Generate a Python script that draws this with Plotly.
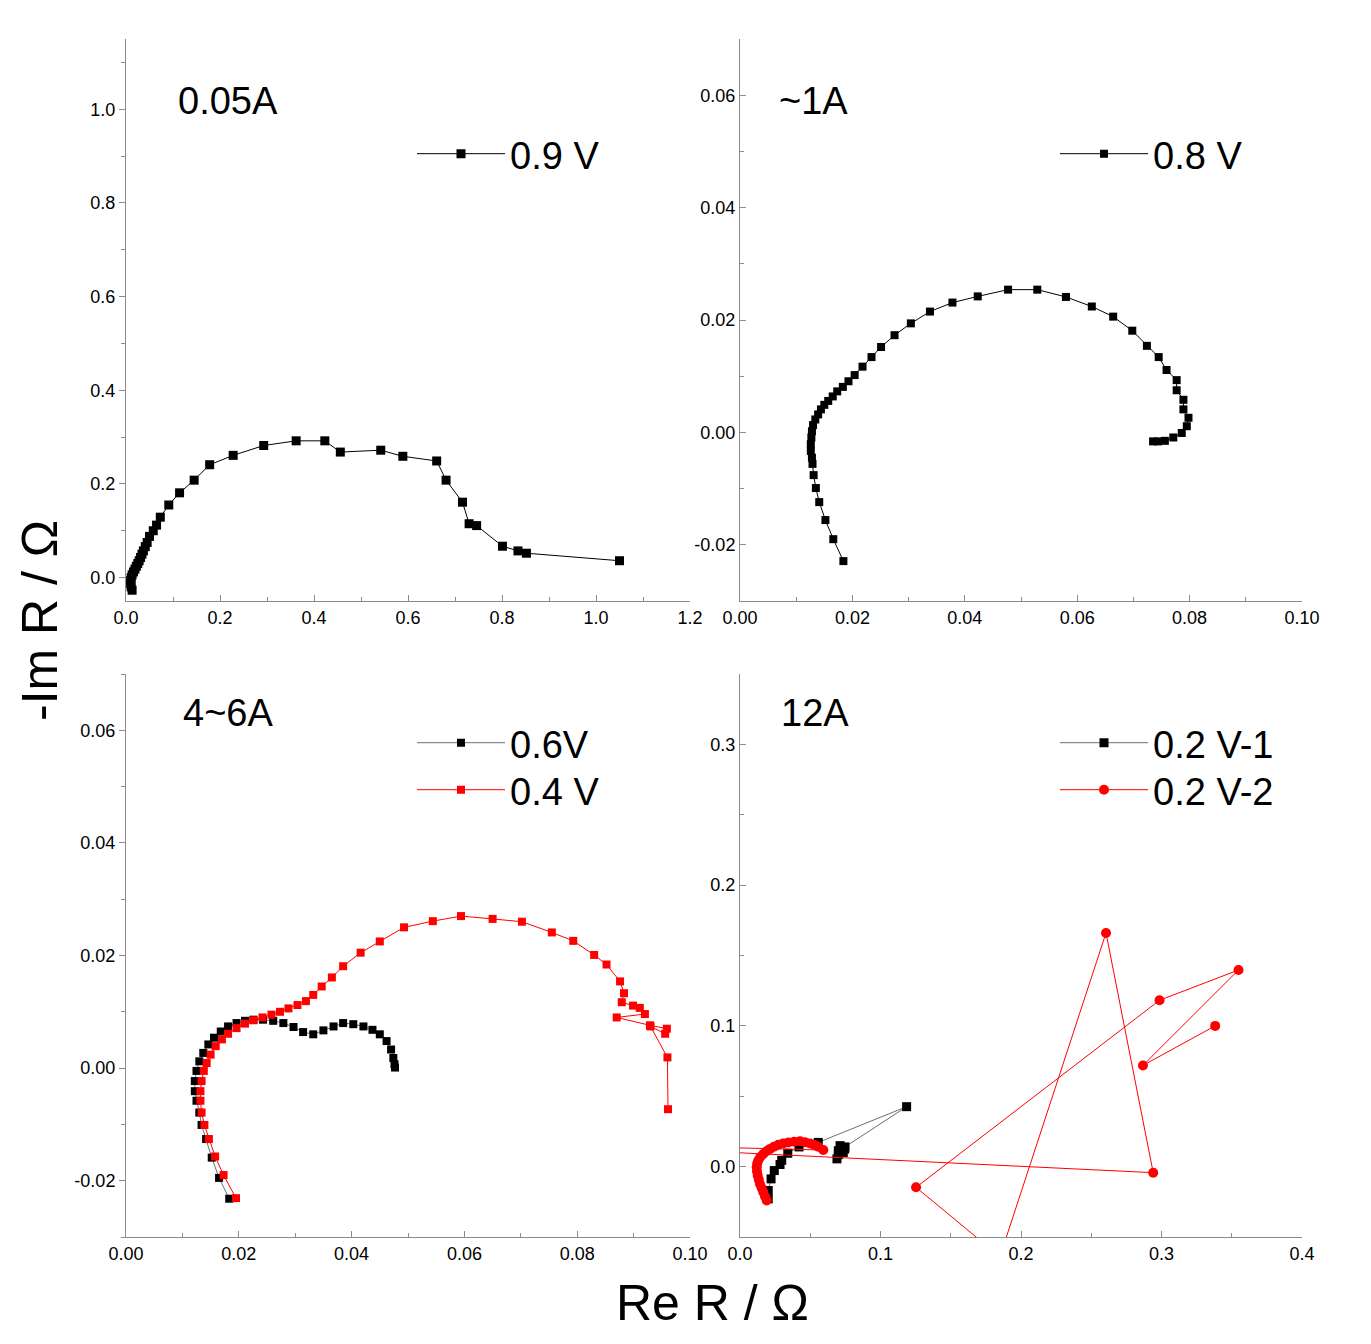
import plotly.graph_objects as go

# ---------------- data ----------------
# Panel 1: 0.05A, 0.9 V
p1_x = [0.013, 0.011, 0.010, 0.010, 0.011, 0.013, 0.016, 0.019, 0.022, 0.025, 0.028, 0.031, 0.034,
        0.037, 0.041, 0.045, 0.050, 0.058, 0.065, 0.073, 0.091, 0.114, 0.145, 0.178, 0.228, 0.293,
        0.362, 0.423, 0.456, 0.542, 0.589, 0.661, 0.681, 0.716, 0.730, 0.746, 0.801, 0.834, 0.852, 1.050]
p1_y = [-0.027, -0.020, -0.013, -0.006, 0.000, 0.006, 0.012, 0.018, 0.024, 0.030, 0.036, 0.043, 0.050,
        0.057, 0.066, 0.075, 0.088, 0.100, 0.112, 0.129, 0.155, 0.181, 0.208, 0.241, 0.261, 0.282,
        0.292, 0.292, 0.268, 0.272, 0.259, 0.249, 0.208, 0.161, 0.115, 0.111, 0.067, 0.057, 0.052, 0.036]

# Panel 2: ~1A, 0.8 V
p2_x = [0.0184, 0.0166, 0.0152, 0.0141, 0.0135, 0.0131, 0.0129, 0.0128, 0.0126, 0.0126, 0.0127,
        0.0128, 0.0130, 0.0134, 0.0139, 0.0144, 0.0150, 0.0157, 0.0165, 0.0173, 0.0183, 0.0193,
        0.0204, 0.0218, 0.0234, 0.0251, 0.0275, 0.0304, 0.0338, 0.0378, 0.0423, 0.0477, 0.0529,
        0.0580, 0.0626, 0.0664, 0.0698, 0.0724, 0.0745, 0.0759, 0.0777, 0.0777, 0.0789, 0.0789,
        0.0798, 0.0795, 0.0786, 0.0771, 0.0756, 0.0744, 0.0735]
p2_y = [-0.0229, -0.0190, -0.0156, -0.0124, -0.0099, -0.0076, -0.0056, -0.0045, -0.0033, -0.0021,
        -0.0009, 0.0002, 0.0013, 0.0023, 0.0032, 0.0041, 0.0049, 0.0056, 0.0064, 0.0073, 0.0081,
        0.0091, 0.0102, 0.0117, 0.0134, 0.0152, 0.0173, 0.0194, 0.0215, 0.0231, 0.0242, 0.0254,
        0.0254, 0.0241, 0.0224, 0.0206, 0.0181, 0.0154, 0.0134, 0.0111, 0.0093, 0.0075, 0.0058,
        0.0041, 0.0026, 0.0011, -0.0001, -0.0009, -0.0015, -0.0016, -0.0016]

# Panel 3: 4~6A, 0.6V (black) and 0.4 V (red)
p3a_x = [0.0183, 0.0165, 0.0152, 0.0142, 0.0134, 0.0130, 0.0125, 0.0122, 0.0122, 0.0125, 0.0130,
         0.0137, 0.0146, 0.0156, 0.0168, 0.0181, 0.0196, 0.0211, 0.0226, 0.0243, 0.0261, 0.0279,
         0.0297, 0.0314, 0.0332, 0.0350, 0.0368, 0.0385, 0.0403, 0.0421, 0.0437, 0.0450, 0.0462,
         0.0470, 0.0474, 0.0476, 0.0477]
p3a_y = [-0.0232, -0.0195, -0.0159, -0.0126, -0.0101, -0.0079, -0.0058, -0.0041, -0.0023, -0.0005,
         0.0012, 0.0027, 0.0042, 0.0054, 0.0065, 0.0074, 0.0080, 0.0084, 0.0086, 0.0086, 0.0084,
         0.0080, 0.0073, 0.0064, 0.0060, 0.0067, 0.0074, 0.0080, 0.0078, 0.0074, 0.0068, 0.0060,
         0.0048, 0.0033, 0.0018, 0.0007, 0.0001]
p3b_x = [0.0195, 0.0173, 0.0158, 0.0147, 0.0139, 0.0134, 0.0132, 0.0132, 0.0134, 0.0138, 0.0143,
         0.0150, 0.0159, 0.0170, 0.0181, 0.0196, 0.0211, 0.0226, 0.0242, 0.0258, 0.0273, 0.0288,
         0.0304, 0.0319, 0.0332, 0.0347, 0.0365, 0.0385, 0.0416, 0.0450, 0.0493, 0.0544, 0.0594,
         0.0650, 0.0702, 0.0755, 0.0793, 0.0830, 0.0852, 0.0876, 0.0883, 0.0879, 0.0899, 0.0911,
         0.0920, 0.0870, 0.0929, 0.0959, 0.0956, 0.0930, 0.0960, 0.0961]
p3b_y = [-0.0231, -0.0190, -0.0157, -0.0126, -0.0101, -0.0079, -0.0058, -0.0041, -0.0023, -0.0005,
         0.0009, 0.0024, 0.0039, 0.0051, 0.0061, 0.0071, 0.0079, 0.0085, 0.0090, 0.0095, 0.0100,
         0.0106, 0.0112, 0.0119, 0.0130, 0.0145, 0.0161, 0.0181, 0.0205, 0.0225, 0.0250, 0.0261,
         0.0270, 0.0265, 0.0260, 0.0241, 0.0226, 0.0201, 0.0184, 0.0154, 0.0133, 0.0117, 0.0111,
         0.0107, 0.0096, 0.0090, 0.0076, 0.0070, 0.0061, 0.0074, 0.0019, -0.0073]

# Panel 4: 12A, 0.2 V-1 (black) and 0.2 V-2 (red)
p4a_x = [0.0201, 0.0201, 0.0221, 0.0244, 0.0285, 0.0297, 0.0340, 0.0420, 0.0557, 0.1186, 0.0747,
         0.0712, 0.0700, 0.0735, 0.0745, 0.0700, 0.0690]
p4a_y = [-0.0229, -0.0170, -0.0087, -0.0028, 0.0015, 0.0045, 0.0095, 0.0140, 0.0172, 0.0426, 0.0140,
         0.0149, 0.0113, 0.0100, 0.0125, 0.0085, 0.0055]
p4b_x = [0.0190, 0.0178, 0.0166, 0.0154, 0.0142, 0.0134, 0.0126, 0.0121, 0.0119, 0.0122, 0.0130,
         0.0145, 0.0166, 0.0188, 0.0214, 0.0242, 0.0273, 0.0308, 0.0344, 0.0385, 0.0427, 0.0462,
         0.0498, 0.0530, 0.0557, 0.0593, -0.150, 0.2941, 0.2605, 0.185, 0.1253, 0.2986, 0.3548,
         0.2868, 0.3382]
p4b_y = [-0.0241, -0.0212, -0.0182, -0.0152, -0.0123, -0.0094, -0.0064, -0.0035, -0.0005, 0.0020,
         0.0043, 0.0068, 0.0090, 0.0109, 0.0126, 0.0142, 0.0156, 0.0165, 0.0172, 0.0177, 0.0180,
         0.0174, 0.0165, 0.0154, 0.0142, 0.0118, 0.017, -0.0043, 0.1660, -0.064, -0.0147, 0.1182,
         0.1397, 0.0719, 0.1000]

# tick labels
p1_xticks = [0.0, 0.2, 0.4, 0.6, 0.8, 1.0, 1.2]
p1_xlabels = ["0.0", "0.2", "0.4", "0.6", "0.8", "1.0", "1.2"]
p1_yticks = [0.0, 0.2, 0.4, 0.6, 0.8, 1.0]
p1_ylabels = ["0.0", "0.2", "0.4", "0.6", "0.8", "1.0"]
small_xticks = [0.0, 0.02, 0.04, 0.06, 0.08, 0.10]
small_xlabels = ["0.00", "0.02", "0.04", "0.06", "0.08", "0.10"]
small_yticks = [-0.02, 0.0, 0.02, 0.04, 0.06]
small_ylabels = ["-0.02", "0.00", "0.02", "0.04", "0.06"]
p4_xticks = [0.0, 0.1, 0.2, 0.3, 0.4]
p4_xlabels = ["0.0", "0.1", "0.2", "0.3", "0.4"]
p4_yticks = [0.0, 0.1, 0.2, 0.3]
p4_ylabels = ["0.0", "0.1", "0.2", "0.3"]

panel_titles = ["0.05A", "~1A", "4~6A", "12A"]

# ---------------- figure ----------------
W, H = 1371, 1344
OFF_X, OFF_Y = 8, 7          # page body margin compensation
FONT = "Arial, Liberation Sans, sans-serif"
AX = "#8a8a8a"
GRAYLINE = "#6e6e6e"


def px_x(p):
    return (p - OFF_X) / W


def px_y(p):
    return 1 - (p - OFF_Y) / H


fig = go.Figure()

fig.add_trace(go.Scatter(x=p1_x, y=p1_y, name="0.9 V", mode="lines+markers",
                         line=dict(color="black", width=1),
                         marker=dict(symbol="square", size=9, color="black"),
                         xaxis="x", yaxis="y", legend="legend"))
fig.add_trace(go.Scatter(x=p2_x, y=p2_y, name="0.8 V", mode="lines+markers",
                         line=dict(color="black", width=1),
                         marker=dict(symbol="square", size=8, color="black"),
                         xaxis="x2", yaxis="y2", legend="legend2"))
fig.add_trace(go.Scatter(x=p3a_x, y=p3a_y, name="0.6V", mode="lines+markers",
                         line=dict(color=GRAYLINE, width=1),
                         marker=dict(symbol="square", size=8, color="black"),
                         xaxis="x3", yaxis="y3", legend="legend3"))
fig.add_trace(go.Scatter(x=p3b_x, y=p3b_y, name="0.4 V", mode="lines+markers",
                         line=dict(color="red", width=1),
                         marker=dict(symbol="square", size=8, color="red"),
                         xaxis="x3", yaxis="y3", legend="legend4"))
fig.add_trace(go.Scatter(x=p4a_x, y=p4a_y, name="0.2 V-1", mode="lines+markers",
                         line=dict(color=GRAYLINE, width=1),
                         marker=dict(symbol="square", size=9, color="black"),
                         xaxis="x4", yaxis="y4", legend="legend5"))
fig.add_trace(go.Scatter(x=p4b_x, y=p4b_y, name="0.2 V-2", mode="lines+markers",
                         line=dict(color="red", width=1),
                         marker=dict(symbol="circle", size=10, color="red"),
                         xaxis="x4", yaxis="y4", legend="legend6"))

left_dom = [px_x(126), px_x(690)]
right_dom = [px_x(740), px_x(1302)]
top_dom = [px_y(600), px_y(38)]
bot_dom = [px_y(1236), px_y(673)]


def xaxis(dom, anchor, rng, tv, tt, minor_dtick):
    return dict(domain=dom, anchor=anchor, range=rng, tickmode="array", tickvals=tv, ticktext=tt,
                showline=True, linecolor=AX, linewidth=1, ticks="inside", ticklen=6,
                tickcolor=AX, showgrid=False, zeroline=False, automargin=False,
                tickfont=dict(family=FONT, size=18, color="black"),
                minor=dict(tickmode="linear", tick0=0, dtick=minor_dtick, ticks="inside",
                           ticklen=4, tickcolor=AX, showgrid=False))


def yaxis(dom, anchor, rng, tv, tt, minor_dtick, ticks):
    return dict(domain=dom, anchor=anchor, range=rng, tickmode="array", tickvals=tv, ticktext=tt,
                showline=True, linecolor=AX, linewidth=1, ticks=ticks, ticklen=6,
                tickcolor=AX, showgrid=False, zeroline=False, automargin=False,
                tickfont=dict(family=FONT, size=18, color="black"),
                minor=dict(tickmode="linear", tick0=0, dtick=minor_dtick, ticks=ticks,
                           ticklen=4, tickcolor=AX, showgrid=False))


leg_common = dict(font=dict(family=FONT, size=38, color="black"), bgcolor="rgba(0,0,0,0)",
                  xanchor="left", yanchor="middle", itemwidth=88, tracegroupgap=0,
                  borderwidth=0)

fig.update_layout(
    width=W, height=H, autosize=False,
    margin=dict(l=0, r=0, t=0, b=0, pad=0, autoexpand=False),
    paper_bgcolor="white", plot_bgcolor="white",
    font=dict(family=FONT, color="black"),
    showlegend=True,
    xaxis=xaxis(left_dom, "y", [0, 1.2], p1_xticks, p1_xlabels, 0.1),
    yaxis=yaxis(top_dom, "x", [-0.05, 1.15], p1_yticks, p1_ylabels, 0.1, "outside"),
    xaxis2=xaxis(right_dom, "y2", [0, 0.1], small_xticks, small_xlabels, 0.01),
    yaxis2=yaxis(top_dom, "x2", [-0.03, 0.07], small_yticks, small_ylabels, 0.01, "inside"),
    xaxis3=xaxis(left_dom, "y3", [0, 0.1], small_xticks, small_xlabels, 0.01),
    yaxis3=yaxis(bot_dom, "x3", [-0.03, 0.07], small_yticks, small_ylabels, 0.01, "outside"),
    xaxis4=xaxis(right_dom, "y4", [0, 0.4], p4_xticks, p4_xlabels, 0.05),
    yaxis4=yaxis(bot_dom, "x4", [-0.05, 0.35], p4_yticks, p4_ylabels, 0.05, "inside"),
    legend=dict(x=px_x(412), y=px_y(153), **leg_common),
    legend2=dict(x=px_x(1055), y=px_y(153), **leg_common),
    legend3=dict(x=px_x(412), y=px_y(742), **leg_common),
    legend4=dict(x=px_x(412), y=px_y(789), **leg_common),
    legend5=dict(x=px_x(1055), y=px_y(742), **leg_common),
    legend6=dict(x=px_x(1055), y=px_y(789), **leg_common),
)

title_pos = [(228, 100), (813, 100), (228, 712), (815, 712)]
for t, (cx, cy) in zip(panel_titles, title_pos):
    fig.add_annotation(text=t, x=px_x(cx), y=px_y(cy), xref="paper", yref="paper",
                       showarrow=False, xanchor="center", yanchor="middle",
                       font=dict(family=FONT, size=38, color="black"))

fig.add_annotation(text="-Im R / Ω", x=px_x(40), y=px_y(620), xref="paper", yref="paper",
                   showarrow=False, textangle=-90, xanchor="center", yanchor="middle",
                   font=dict(family=FONT, size=50, color="black"))
fig.add_annotation(text="Re R / Ω", x=px_x(712), y=px_y(1302), xref="paper", yref="paper",
                   showarrow=False, xanchor="center", yanchor="middle",
                   font=dict(family=FONT, size=50, color="black"))

fig.write_html("out.html")
